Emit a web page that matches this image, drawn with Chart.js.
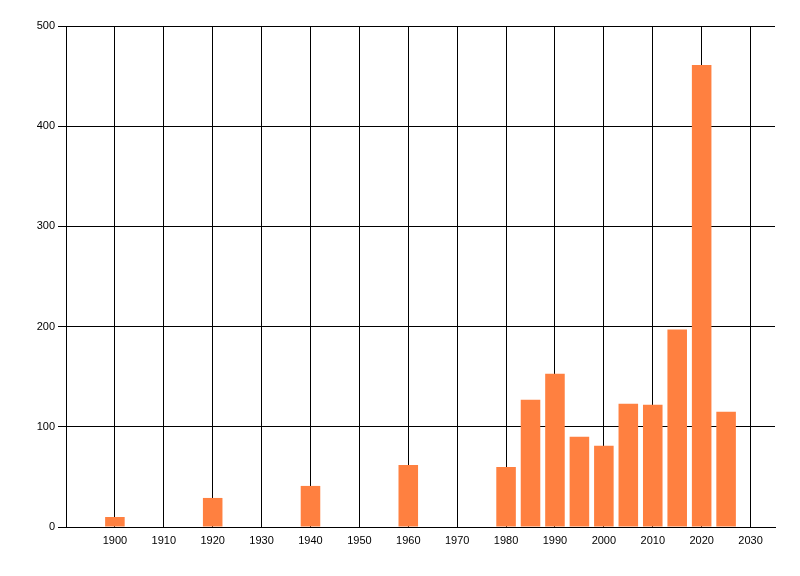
<!DOCTYPE html>
<html>
<head>
<meta charset="utf-8">
<script src="https://cdn.jsdelivr.net/npm/chart.js@4/dist/chart.umd.min.js"></script>
<style>
  html, body { margin: 0; padding: 0; background: #fff; }
  #wrap { width: 800px; height: 576px; }
</style>
</head>
<body>
<div id="wrap"><canvas id="c" width="800" height="576"></canvas></div>
<script>
const years = [1900, 1920, 1940, 1960, 1980, 1985, 1990, 1995, 2000, 2005, 2010, 2015, 2020, 2025];
const counts = [10, 29, 41, 62, 60, 127, 153, 90, 81, 123, 122, 197, 461, 115];
const xTickValues = [1900, 1910, 1920, 1930, 1940, 1950, 1960, 1970, 1980, 1990, 2000, 2010, 2020, 2030];
const yTickValues = [0, 100, 200, 300, 400, 500];

const points = years.map((y, i) => ({ x: y, y: counts[i] }));
const font = { family: "'Liberation Sans', Arial, sans-serif", size: 11 };

new Chart(document.getElementById('c'), {
  type: 'bar',
  data: {
    datasets: [{
      data: points,
      backgroundColor: '#FF8040',
      borderWidth: 0,
      categoryPercentage: 1.0,
      barPercentage: 0.8
    }]
  },
  options: {
    responsive: false,
    devicePixelRatio: 1,
    animation: false,
    layout: { padding: { top: 26, right: 25, left: 0, bottom: 0 } },
    plugins: { legend: { display: false }, tooltip: { enabled: false } },
    scales: {
      x: {
        type: 'linear',
        min: 1890,
        max: 2035,
        offset: false,
        grid: { offset: false, color: '#000', lineWidth: 1, drawTicks: false },
        border: { display: true, color: '#000', width: 1 },
        ticks: {
          stepSize: 10,
          padding: 7,
          color: '#000',
          font: font,
          maxRotation: 0,
          autoSkip: false,
          callback: v => String(v)
        },
        afterBuildTicks: s => { s.ticks = xTickValues.map(v => ({ value: v })); },
        afterFit: s => { s.height = 49; }
      },
      y: {
        type: 'linear',
        min: 0,
        max: 500,
        grid: { color: '#000', lineWidth: 1, tickLength: 8 },
        border: { display: true, color: '#000', width: 1 },
        ticks: {
          stepSize: 100,
          padding: 3,
          color: '#000',
          font: font,
          callback: v => String(v)
        },
        afterBuildTicks: s => { s.ticks = yTickValues.map(v => ({ value: v })); },
        afterFit: s => { s.width = 66; }
      }
    }
  }
});
</script>
</body>
</html>
